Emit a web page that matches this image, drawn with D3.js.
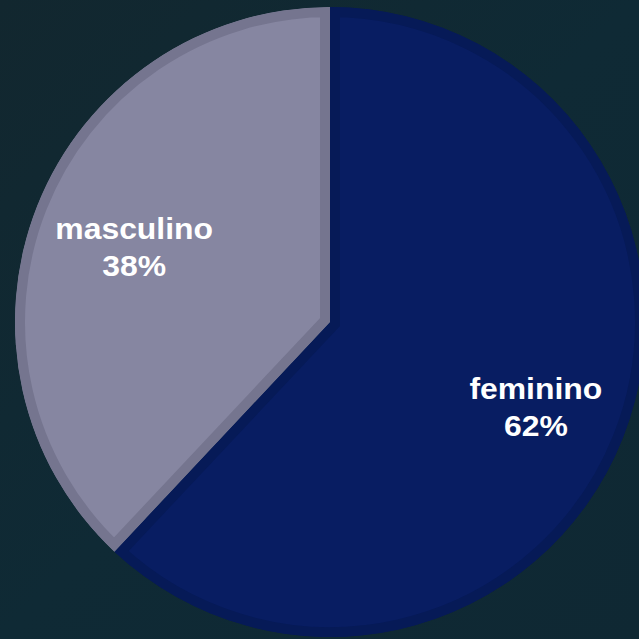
<!DOCTYPE html>
<html><head><meta charset="utf-8">
<script src="https://cdn.jsdelivr.net/npm/d3@7"></script>
<style>html,body{margin:0;padding:0;background:#0f2832;}svg{display:block;}</style>
</head><body>
<script>
const categories = ["feminino", "masculino"];
const values = [62, 38];
const labels = ["62%", "38%"];
const fills = ["#081d62", "#8686a1"];
const borders = ["#061a57", "#75758f"];

const W = 639, H = 639, cx = 330, cy = 322, R = 315;
const svg = d3.select("body").append("svg").attr("width", W).attr("height", H);
const defs = svg.append("defs");
const g0 = defs.append("linearGradient").attr("id","bg").attr("x1","0").attr("y1","0").attr("x2","1").attr("y2","1");
g0.append("stop").attr("offset","0").attr("stop-color","#12272f");
g0.append("stop").attr("offset","0.5").attr("stop-color","#0f2a35");
g0.append("stop").attr("offset","1").attr("stop-color","#0f2833");
svg.append("rect").attr("width",W).attr("height",H).attr("fill","url(#bg)");

const pie = d3.pie().sort(null).value(d => d)(values);
const arc = d3.arc().innerRadius(0).outerRadius(R);
const g = svg.append("g").attr("transform", `translate(${cx},${cy})`);

pie.forEach((p, i) => {
  defs.append("clipPath").attr("id", "clip" + i).append("path").attr("d", arc(p));
  const s = g.append("g").attr("clip-path", `url(#clip${i})`);
  s.append("path").attr("d", arc(p)).attr("fill", fills[i])
    .attr("stroke", borders[i]).attr("stroke-width", 20).attr("stroke-linejoin","miter");
});

const labelArc = d3.arc().innerRadius(216).outerRadius(216);
pie.forEach((p, i) => {
  const [x, y] = labelArc.centroid(p);
  const lg = g.append("g").attr("transform", `translate(${x + 5},${y + 5}) scale(1.1,1)`);
  const t = lg.append("text").attr("text-anchor","middle")
    .attr("font-family","Liberation Sans, Arial, sans-serif").attr("font-weight","bold")
    .attr("font-size", 29).attr("fill","#ffffff");
  t.append("tspan").attr("x", 0).attr("y", -8).text(categories[i]);
  t.append("tspan").attr("x", 0).attr("y", 29).text(labels[i]);
});
</script>
</body></html>
